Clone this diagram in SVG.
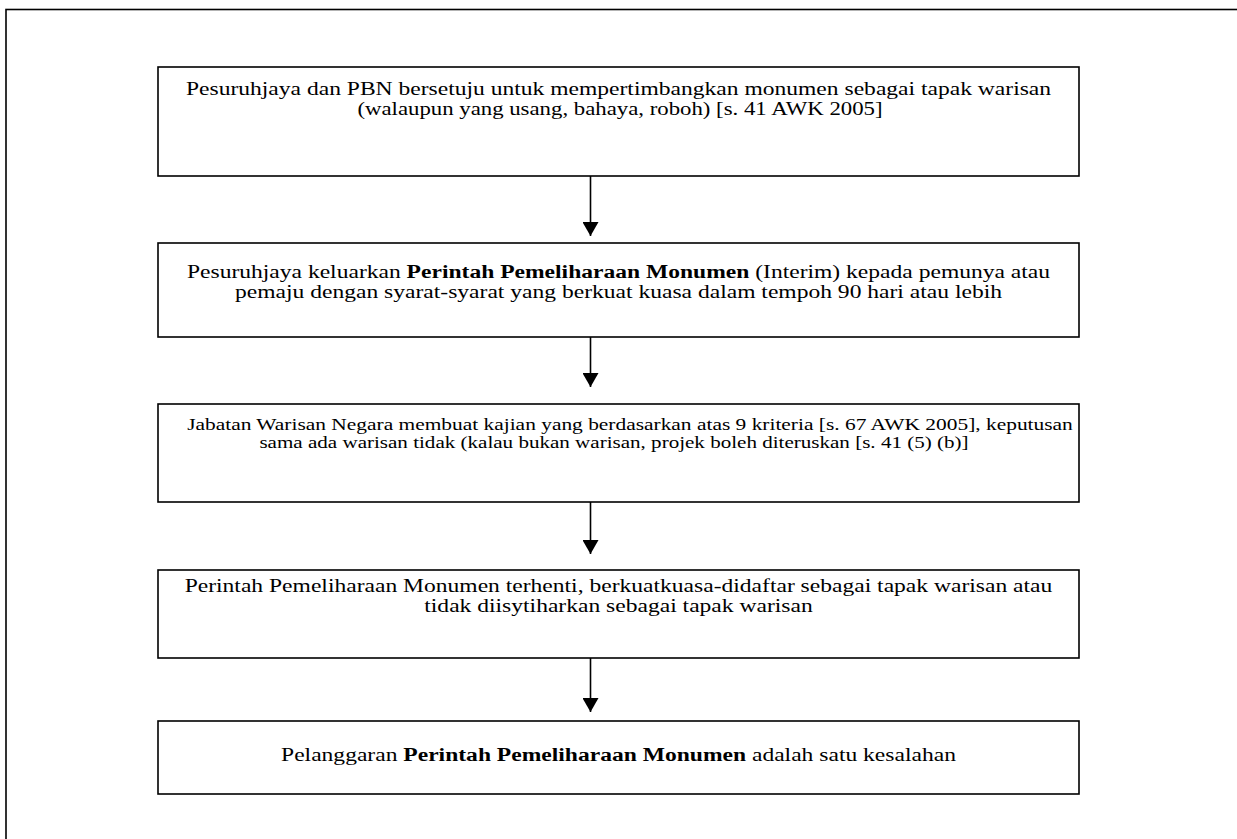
<svg xmlns="http://www.w3.org/2000/svg" width="1237" height="839" viewBox="0 0 1237 839">
<style>
.box{fill:#fff;stroke:#000;stroke-width:1.6}
.frame{fill:none;stroke:#000;stroke-width:1.6}
.t{font-family:"Liberation Serif","Times New Roman",serif;font-size:19px;fill:#000;text-anchor:middle}
.s{font-family:"Liberation Serif","Times New Roman",serif;font-size:17px;fill:#000;text-anchor:middle}
.b{font-weight:bold}
.conn{stroke:#000;stroke-width:1.6;fill:none}
</style>
<defs>
<marker id="ah" viewBox="0 0 14 16" refX="14" refY="8" markerWidth="14" markerHeight="16" markerUnits="userSpaceOnUse" orient="auto">
<path d="M0,0 L14,8 L0,16 Z" fill="#000"/>
</marker>
</defs>
<rect width="1237" height="839" fill="#fff"/>
<rect class="frame" x="6" y="9.5" width="1300" height="900"/>
<g id="n1">
<rect class="box" x="158" y="67" width="921" height="109"/>
<text class="t" transform="translate(618.5,95) scale(1.24,1)">Pesuruhjaya dan PBN bersetuju untuk mempertimbangkan monumen sebagai tapak warisan</text>
<text class="t" transform="translate(620,115) scale(1.2,1)">(walaupun yang usang, bahaya, roboh) [s. 41 AWK 2005]</text>
</g>
<g id="n2">
<rect class="box" x="158" y="243" width="921" height="94"/>
<text class="t" transform="translate(618.5,278) scale(1.24,1)">Pesuruhjaya keluarkan <tspan class="b">Perintah Pemeliharaan Monumen</tspan> (Interim) kepada pemunya atau</text>
<text class="t" transform="translate(618.5,298) scale(1.24,1)">pemaju dengan syarat-syarat yang berkuat kuasa dalam tempoh 90 hari atau lebih</text>
</g>
<g id="n3">
<rect class="box" x="158" y="404" width="921" height="98"/>
<text class="s" transform="translate(630,430) scale(1.26,1)">Jabatan Warisan Negara membuat kajian yang berdasarkan atas 9 kriteria [s. 67 AWK 2005], keputusan</text>
<text class="s" transform="translate(614,448) scale(1.24,1)">sama ada warisan tidak (kalau bukan warisan, projek boleh diteruskan [s. 41 (5) (b)]</text>
</g>
<g id="n4">
<rect class="box" x="158" y="570" width="921" height="88"/>
<text class="t" transform="translate(618.5,592) scale(1.24,1)">Perintah Pemeliharaan Monumen terhenti, berkuatkuasa-didaftar sebagai tapak warisan atau</text>
<text class="t" transform="translate(618.5,612) scale(1.24,1)">tidak diisytiharkan sebagai tapak warisan</text>
</g>
<g id="n5">
<rect class="box" x="158" y="721" width="921" height="73"/>
<text class="t" transform="translate(618.5,761) scale(1.24,1)">Pelanggaran <tspan class="b">Perintah Pemeliharaan Monumen</tspan> adalah satu kesalahan</text>
</g>
<g id="connectors">
<line class="conn" x1="590.5" y1="176" x2="590.5" y2="236" marker-end="url(#ah)"/>
<line class="conn" x1="590.5" y1="337" x2="590.5" y2="387" marker-end="url(#ah)"/>
<line class="conn" x1="590.5" y1="502" x2="590.5" y2="554" marker-end="url(#ah)"/>
<line class="conn" x1="590.5" y1="658" x2="590.5" y2="712" marker-end="url(#ah)"/>
</g>
</svg>
